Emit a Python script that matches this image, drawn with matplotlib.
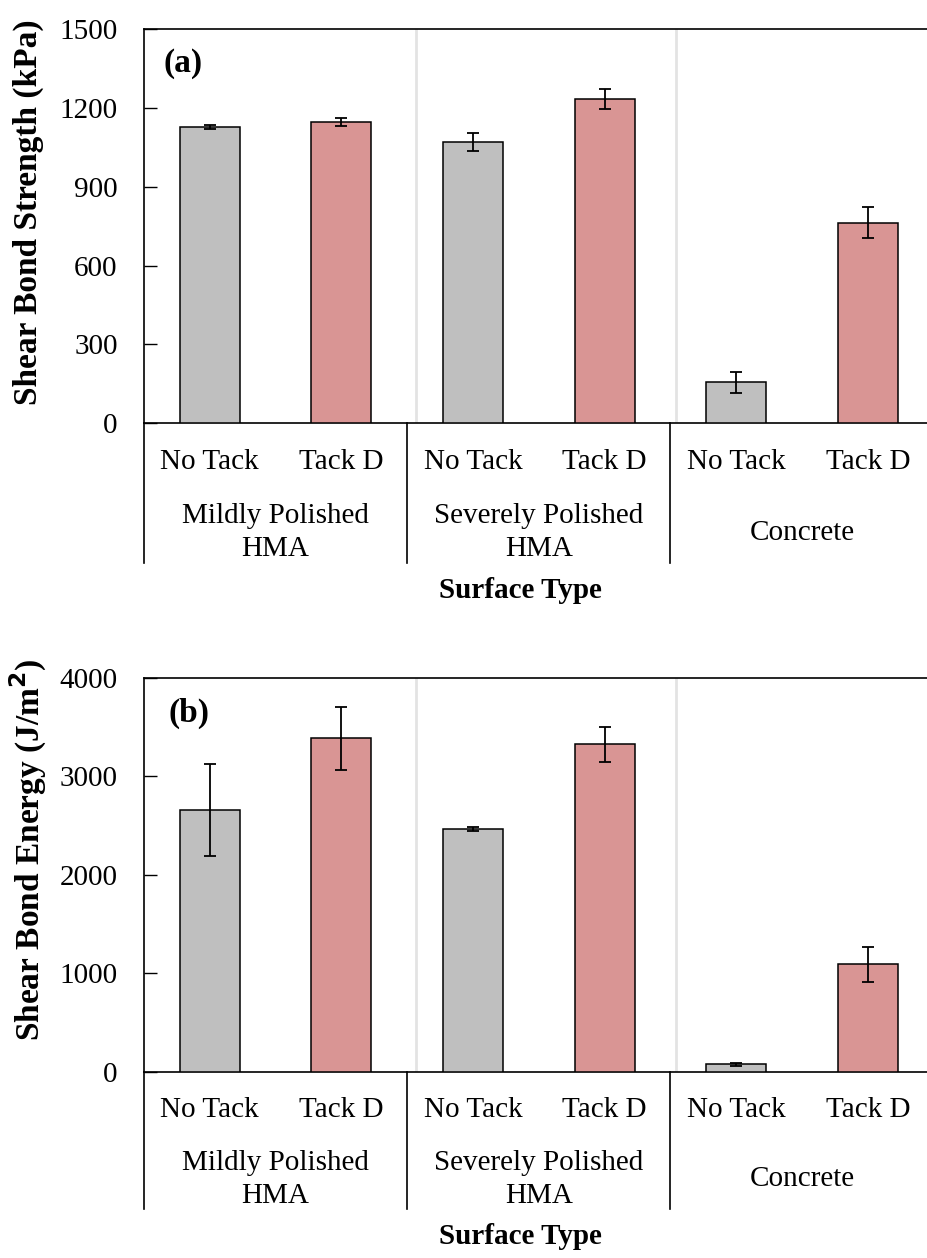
import matplotlib
matplotlib.use("Agg")
import matplotlib.pyplot as plt
import matplotlib.transforms as mtransforms
import numpy as np

plt.rcParams['font.family'] = ['Liberation Serif', 'DejaVu Serif']

tacks = ["No Tack", "Tack D", "No Tack", "Tack D", "No Tack", "Tack D"]
surfaces = ["Mildly Polished\nHMA", "Severely Polished\nHMA", "Concrete"]

strength = [1127, 1148, 1070, 1235, 156, 764]
strength_err = [7, 15, 35, 38, 39, 60]

energy = [2657, 3384, 2465, 3324, 78, 1092]
energy_err = [466, 323, 25, 179, 15, 174]

colors = ['#BFBFBF', '#D99594'] * 3

W, H = 928, 1258
fig = plt.figure(figsize=(W / 100, H / 100), dpi=100)

x = np.arange(len(tacks))
fs = 21


def make_panel(bottom_px, top_px, values, errs, ymax, step, ylabel, tag, lab_y, grp_y, sep_y, title_y, ylab_y):
  ax = fig.add_axes([144 / W, (H - bottom_px) / H, (933.6 - 144) / W, (bottom_px - top_px) / H])
  ax.bar(x, values, width=0.456, color=colors, edgecolor='black', linewidth=1.1, zorder=3,
         yerr=errs, error_kw=dict(ecolor='black', elinewidth=1.3, capsize=4.5, capthick=1.3))
  ax.set_xlim(-0.5, 5.5)
  ax.set_ylim(0, ymax)
  ax.set_yticks(np.arange(0, ymax + 1, step))
  ax.tick_params(axis='y', direction='in', length=9, width=1, labelsize=fs, pad=19)
  ax.set_xticks([])
  for s in ax.spines.values():
    s.set_linewidth(1.2)
  # light separators inside the plot area
  for gx in [1.57, 3.54]:
    ax.axvline(gx, color='#E3E3E3', linewidth=2, zorder=1)
  trans = mtransforms.blended_transform_factory(ax.transData, ax.transAxes)
  for xi, t in zip(x, tacks):
    ax.text(xi, lab_y, t, transform=trans, ha='center', va='center', fontsize=fs)
  for gi, g in enumerate(surfaces):
    ax.text(2 * gi + 0.5, grp_y, g, transform=trans, ha='center', va='center', fontsize=fs,
            linespacing=1.35)
  for sx in [-0.5, 1.5, 3.5]:
    ax.plot([sx, sx], [0, sep_y], transform=trans, color='black', linewidth=1.2, clip_on=False)
  fig.text(520 / W, (H - title_y) / H, "Surface Type", ha='center', va='center',
           fontsize=fs, fontweight='bold')
  fig.text(28 / W, (H - ylab_y) / H, ylabel, rotation=90, ha='center', va='center',
           fontsize=24, fontweight='bold')
  ax.text(tag[1], tag[2], tag[0], transform=ax.transAxes, ha='center', va='center',
          fontsize=24, fontweight='bold')
  return ax


make_panel(423.3, 29.3, strength, strength_err, 1500, 300, "Shear Bond Strength (kPa)",
           ("(a)", 0.049, 0.912), -0.097, -0.278, -0.355, 590, 212)
make_panel(1072, 677.7, energy, energy_err, 4000, 1000, "Shear Bond Energy (J/m$^\\mathbf{2}$)",
           ("(b)", 0.057, 0.910), -0.097, -0.272, -0.347, 1237, 850)

fig.savefig("out.png", dpi=100)
